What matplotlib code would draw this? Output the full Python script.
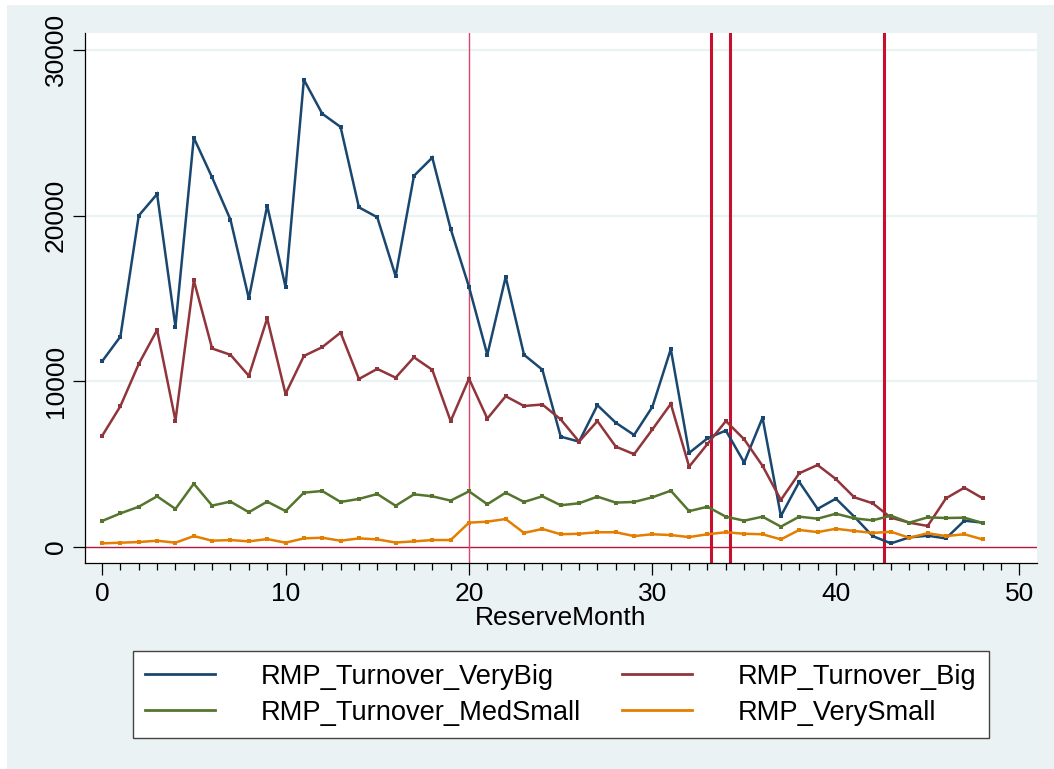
import matplotlib
matplotlib.use("Agg")
import matplotlib.pyplot as plt
from matplotlib.patches import Rectangle
import numpy as np

plt.rcParams['font.family'] = ['Liberation Sans', 'DejaVu Sans']

months = list(range(49))
very_big = [11200, 12700, 20000, 21300, 13300, 24700, 22300, 19750, 15000, 20600,
            15700, 28200, 26150, 25350, 20500, 19900, 16350, 22400, 23500, 19200,
            15700, 11600, 16300, 11600, 10700, 6660, 6360, 8560, 7500, 6760,
            8470, 11940, 5680, 6560, 7030, 5100, 7800, 1870, 3930, 2300,
            2920, 1830, 660, 220, 580, 680, 520, 1590, 1470]
big = [6700, 8500, 11050, 13100, 7630, 16100, 11980, 11600, 10330, 13800,
       9240, 11530, 12060, 12940, 10140, 10750, 10220, 11450, 10690, 7600,
       10160, 7750, 9100, 8510, 8600, 7700, 6360, 7600, 6060, 5600,
       7100, 8640, 4850, 6220, 7600, 6500, 4900, 2840, 4450, 4950,
       4100, 3000, 2640, 1770, 1470, 1270, 2940, 3580, 2940]
med_small = [1570, 2030, 2430, 3060, 2300, 3820, 2500, 2740, 2100, 2740,
             2170, 3280, 3380, 2720, 2900, 3200, 2490, 3180, 3060, 2800,
             3360, 2580, 3280, 2720, 3060, 2520, 2640, 3040, 2680, 2720,
             3000, 3400, 2165, 2430, 1830, 1590, 1830, 1230, 1830, 1710,
             2010, 1730, 1610, 1890, 1470, 1790, 1750, 1770, 1450]
very_small = [220, 260, 300, 380, 260, 660, 380, 420, 340, 480,
              260, 520, 560, 380, 520, 460, 270, 340, 420, 420,
              1470, 1530, 1690, 850, 1090, 770, 800, 890, 890, 660,
              770, 720, 600, 770, 890, 800, 770, 460, 1030, 900,
              1100, 970, 850, 920, 560, 830, 660, 770, 460]

series_labels = ["RMP_Turnover_VeryBig", "RMP_Turnover_Big",
                 "RMP_Turnover_MedSmall", "RMP_VerySmall"]
series_colors = ["#1a476f", "#90353b", "#55752f", "#e37e00"]

event_lines = [20, 33.2, 34.25, 42.6]
x_ticks = [0, 10, 20, 30, 40, 50]
y_ticks = [0, 10000, 20000, 30000]

W, H = 1054, 769
fig = plt.figure(figsize=(W / 100, H / 100), dpi=100)
fig.patch.set_facecolor("#eaf2f3")
# white strips at top and left edge
fig.patches.append(Rectangle((0, 1 - 5 / H), 1, 5 / H, transform=fig.transFigure,
                             facecolor="white", edgecolor="none", zorder=0))
fig.patches.append(Rectangle((0, 0), 7 / W, 1, transform=fig.transFigure,
                             facecolor="white", edgecolor="none", zorder=0))

ax = fig.add_axes([85 / W, 1 - 563 / H, 952 / W, 530 / H])
ax.set_facecolor("white")

ax.set_xlim(-0.93, 50.96)
ax.set_ylim(-965, 31020)

for yv in y_ticks[1:]:
    ax.axhline(yv, color="#eaf2f3", lw=1.6, zorder=0.5)
ax.axhline(0, color="#b5173e", lw=1.0, zorder=1.2)

for i, xv in enumerate(event_lines):
    if i == 0:
        ax.axvline(xv, color="#d9466a", lw=1.0, zorder=1.3)
    else:
        ax.axvline(xv, color="#c8102e", lw=2.2, zorder=1.3)

handles = []
for vals, lab, col in zip([very_big, big, med_small, very_small], series_labels, series_colors):
    h, = ax.plot(months, vals, color=col, lw=1.8, marker="s", markersize=2.4,
                 markeredgewidth=0, label=lab, zorder=2, solid_joinstyle="miter")
    handles.append(h)

for s in ["top", "right"]:
    ax.spines[s].set_visible(False)
for s in ["left", "bottom"]:
    ax.spines[s].set_color("black")
    ax.spines[s].set_linewidth(0.9)

ax.set_xticks(x_ticks)
ax.set_xticks(list(range(0, 51)), minor=True)
ax.set_yticks(y_ticks)
ax.set_yticklabels([str(v) for v in y_ticks], rotation=90, va="center")
ax.tick_params(axis="both", which="major", length=8.5, width=0.9, labelsize=19,
               colors="black")
ax.tick_params(axis="x", which="major", pad=5)
ax.tick_params(axis="y", which="major", pad=4)
ax.tick_params(axis="x", which="minor", length=5, width=0.9)
ax.set_xlabel("ReserveMonth", fontsize=19, labelpad=0)

# legend ordering: row-wise in 2 columns
order = [0, 2, 1, 3]
leg = fig.legend([handles[i] for i in order], [series_labels[i] for i in order],
                 ncol=2, loc="upper center", bbox_to_anchor=(561 / W, 1 - 651 / H),
                 borderaxespad=0,
                 fontsize=19.6, frameon=True, fancybox=False, edgecolor="#444444",
                 facecolor="white", framealpha=1,
                 handlelength=2.55, handletextpad=1.7, columnspacing=1.5,
                 borderpad=0.47, labelspacing=0.36)
leg.get_frame().set_linewidth(1.0)
for lh in leg.get_lines():
    lh.set_marker("")
    lh.set_linewidth(2.0)

fig.savefig("out.png", dpi=100, facecolor=fig.get_facecolor())
